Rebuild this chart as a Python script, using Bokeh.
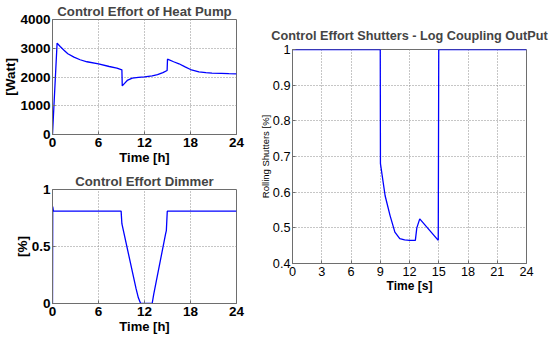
from bokeh.plotting import figure
from bokeh.models import Range1d, FixedTicker, CustomJSTickFormatter
from bokeh.layouts import row, column
from bokeh.embed import file_html
from bokeh.resources import INLINE

# ---------------- data ----------------
hp_t = [0, 0.6, 1.0, 1.5, 2.0, 2.8, 3.6, 4.5, 6.0, 7.4, 8.4, 9.05,
        9.1, 9.4, 9.75, 10.4, 11.2, 12.0, 13.0, 13.7, 14.4, 14.95,
        15.0, 15.8, 16.5, 17.3, 18.0, 19.1, 20.0, 20.8, 22.0, 23.0, 24.0]
hp_w = [0, 3180, 3060, 2930, 2810, 2690, 2600, 2530, 2455, 2365, 2310, 2250,
        1690, 1780, 1880, 1960, 1985, 2005, 2040, 2080, 2150, 2225,
        2620, 2530, 2460, 2350, 2260, 2180, 2155, 2135, 2125, 2115, 2110]

dm_t = [0, 0.03, 0.12, 8.95, 9.05, 10.9, 11.2, 11.5, 13.0, 13.2, 14.75, 14.85, 14.97, 24]
dm_v = [0, 0.85, 0.81, 0.81, 0.70, 0.13, 0.05, 0.0, 0.0, 0.08, 0.61, 0.64, 0.81, 0.81]

sh_t = [0, 9.0, 9.02, 9.5, 10.0, 10.5, 11.0, 11.5, 12.0, 12.6, 12.75, 13.05, 14.95, 15.0, 24]
sh_v = [1, 1, 0.68, 0.59, 0.535, 0.488, 0.47, 0.466, 0.465, 0.465, 0.50, 0.525, 0.465, 1, 1]

hp_xticks = [0, 6, 12, 18, 24]
hp_yticks = [0, 1000, 2000, 3000, 4000]
dm_yticks = [0, 0.5, 1]
sh_xticks = [0, 3, 6, 9, 12, 15, 18, 21, 24]
sh_yticks = [0.4, 0.5, 0.6, 0.7, 0.8, 0.9, 1.0]

titles = ["Control Effort of Heat Pump", "Control Effort Dimmer",
          "Control Effort Shutters - Log Coupling OutPut"]
xlabels = ["Time [h]", "Time [h]", "Time [s]"]
ylabels = ["[Watt]", "[%]", "Rolling Shutters [%]"]

FONT = "Liberation Sans"
FRAME = "#6e6e6e"
GRID = "#8c8c8c"
BLUE = "#0000ff"


def make(xr, yr, xt, yt, fw, fh, bl, br, bt, bb, tick_size, tick_style,
         title, tsize, tstand, xl, xsize, xstand, yl, ysize, ystyle, ystand):
    p = figure(frame_width=fw, frame_height=fh,
               min_border_left=bl, min_border_right=br,
               min_border_top=bt, min_border_bottom=bb,
               x_range=Range1d(*xr), y_range=Range1d(*yr),
               output_backend="svg", toolbar_location=None,
               background_fill_color="white", border_fill_color="white")
    p.outline_line_color = FRAME
    p.outline_line_width = 1
    p.title.text = title
    p.title.align = "center"
    p.title.text_font = FONT
    p.title.text_font_size = tsize
    p.title.text_font_style = "bold"
    p.title.standoff = tstand
    for ax, ticks in ((p.xaxis, xt), (p.yaxis, yt)):
        ax.ticker = FixedTicker(ticks=ticks)
        ax.formatter = CustomJSTickFormatter(code="return String(Math.round(tick*1000)/1000);")
        ax.axis_line_color = FRAME
        ax.major_tick_line_color = FRAME
        ax.major_tick_in = 3
        ax.major_tick_out = 0
        ax.minor_tick_line_color = None
        ax.major_label_text_font = FONT
        ax.major_label_text_font_size = tick_size
        ax.major_label_text_font_style = tick_style
        ax.major_label_text_color = "black"
        ax.axis_label_text_font = FONT
        ax.axis_label_text_color = "black"
    p.xaxis.major_label_standoff = 3
    p.yaxis.major_label_standoff = 2
    p.xaxis.axis_label = xl
    p.xaxis.axis_label_text_font_size = xsize
    p.xaxis.axis_label_text_font_style = "bold"
    p.xaxis.axis_label_standoff = xstand
    p.yaxis.axis_label = yl
    p.yaxis.axis_label_text_font_size = ysize
    p.yaxis.axis_label_text_font_style = ystyle
    p.yaxis.axis_label_standoff = ystand
    for g in (p.xgrid, p.ygrid):
        g.grid_line_color = GRID
        g.grid_line_dash = "1 2"
        g.grid_line_width = 1
    return p


p1 = make((0, 24), (0, 4000), hp_xticks, hp_yticks, 184, 115, 52, 20, 19, 36,
          "13.5px", "bold", titles[0], "13.2px", 1, xlabels[0], "13px", 0,
          ylabels[0], "13.5px", "bold", -1)
p1.line(hp_t, hp_w, line_color=BLUE, line_width=1.3)

p2 = make((0, 24), (0, 1), hp_xticks, dm_yticks, 184, 114, 52, 20, 19, 34,
          "13.5px", "bold", titles[1], "13.2px", 1, xlabels[1], "13px", 0,
          ylabels[1], "13.5px", "bold", -1)
p2.line(dm_t, dm_v, line_color=BLUE, line_width=1.3)

p3 = make((0, 24), (0.4, 1), sh_xticks, sh_yticks, 234, 214, 36, 24, 49, 40,
          "12.7px", "normal", titles[2], "12.7px", 13, xlabels[2], "12px", 0,
          ylabels[2], "9.5px", "normal", -1)
p3.line(sh_t, sh_v, line_color=BLUE, line_width=1.3)

layout = row(column(p1, p2, spacing=0), p3, spacing=0)
open("out.html", "w").write(file_html(layout, INLINE))
